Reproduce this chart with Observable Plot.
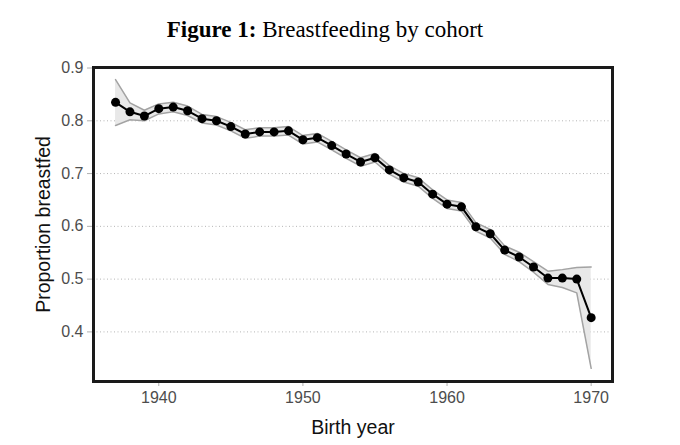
<!DOCTYPE html>
<html>
<head>
<meta charset="utf-8">
<script src="https://cdn.jsdelivr.net/npm/d3@7"></script>
<script src="https://cdn.jsdelivr.net/npm/@observablehq/plot@0.6"></script>
<style>
  html, body { margin: 0; padding: 0; background: #fff; }
  #title { position: relative; height: 50px; width: 680px; }
  #title span.t { position: absolute; left: 0; width: 650px; text-align: center; top: 18px; line-height: 23px;
    font-family: "Liberation Serif", "Times New Roman", serif; font-size: 23px; color: #000; white-space: nowrap; }
  #chart svg { display: block; }
</style>
</head>
<body>
<div id="title"><span class="t"><b>Figure 1:</b> Breastfeeding by cohort</span></div>
<div id="chart"></div>
<script>
const years = [1937,1938,1939,1940,1941,1942,1943,1944,1945,1946,1947,1948,1949,1950,1951,1952,1953,1954,1955,1956,1957,1958,1959,1960,1961,1962,1963,1964,1965,1966,1967,1968,1969,1970];
const proportion = [0.835,0.817,0.809,0.823,0.826,0.819,0.804,0.800,0.789,0.775,0.779,0.779,0.781,0.764,0.768,0.753,0.737,0.722,0.730,0.707,0.692,0.684,0.661,0.642,0.637,0.599,0.586,0.555,0.542,0.523,0.502,0.502,0.500,0.427];
const lower = [0.791,0.802,0.800,0.813,0.817,0.810,0.796,0.792,0.781,0.767,0.771,0.771,0.773,0.756,0.760,0.745,0.729,0.714,0.722,0.699,0.684,0.676,0.653,0.634,0.629,0.591,0.578,0.547,0.533,0.513,0.490,0.484,0.474,0.331];
const upper = [0.878,0.834,0.820,0.832,0.835,0.828,0.812,0.808,0.797,0.783,0.787,0.787,0.789,0.772,0.776,0.761,0.745,0.730,0.738,0.715,0.700,0.692,0.669,0.650,0.645,0.607,0.594,0.563,0.551,0.533,0.515,0.518,0.522,0.523];
const xTicks = [1940,1950,1960,1970];
const yTicks = [0.4,0.5,0.6,0.7,0.8,0.9];
const gridTicks = [0.4,0.5,0.6,0.7,0.8];

const data = years.map((y, i) => ({year: y, p: proportion[i], lo: lower[i], hi: upper[i]}));

const chart = Plot.plot({
  width: 680,
  height: 395,
  marginTop: 17,
  marginLeft: 93,
  marginRight: 68,
  marginBottom: 64,
  style: {fontFamily: "'Liberation Sans', Arial, sans-serif", background: "#fff"},
  x: {domain: [1935.47, 1971.48]},
  y: {domain: [0.306, 0.901]},
  marks: [
    Plot.gridY(gridTicks, {stroke: "#b5b5b5", strokeOpacity: 1, strokeDasharray: "1,2.5", strokeWidth: 1}),
    Plot.areaY(data, {x: "year", y1: "lo", y2: "hi", fill: "#e8e8e8"}),
    Plot.line(data, {x: "year", y: "lo", stroke: "#a3a3a3", strokeWidth: 1.5}),
    Plot.line(data, {x: "year", y: "hi", stroke: "#a3a3a3", strokeWidth: 1.5}),
    Plot.line(data, {x: "year", y: "p", stroke: "#000", strokeWidth: 2}),
    Plot.dot(data, {x: "year", y: "p", r: 4.5, fill: "#000", stroke: "none"}),
    Plot.axisY({ticks: yTicks, tickSize: 6, tickPadding: 4, stroke: "#b0b0b0", fill: "#4d4d4d", fontSize: 16, label: null, tickFormat: d => d.toFixed(1)}),
    Plot.axisX({ticks: xTicks, tickSize: 5, tickPadding: 5, stroke: "#b0b0b0", fill: "#4d4d4d", fontSize: 16, label: null, tickFormat: d => String(d)}),
    Plot.frame({stroke: "#1a1a1a", strokeWidth: 3}),
    Plot.text(["Proportion breastfed"], {frameAnchor: "left", textAnchor: "middle", lineAnchor: "middle", dx: -50, rotate: -90, fontSize: 19.5, fill: "#111"}),
    Plot.text(["Birth year"], {frameAnchor: "bottom", textAnchor: "middle", lineAnchor: "middle", dy: 46, fontSize: 19.5, fill: "#111"})
  ]
});
document.getElementById("chart").appendChild(chart);
</script>
</body>
</html>
